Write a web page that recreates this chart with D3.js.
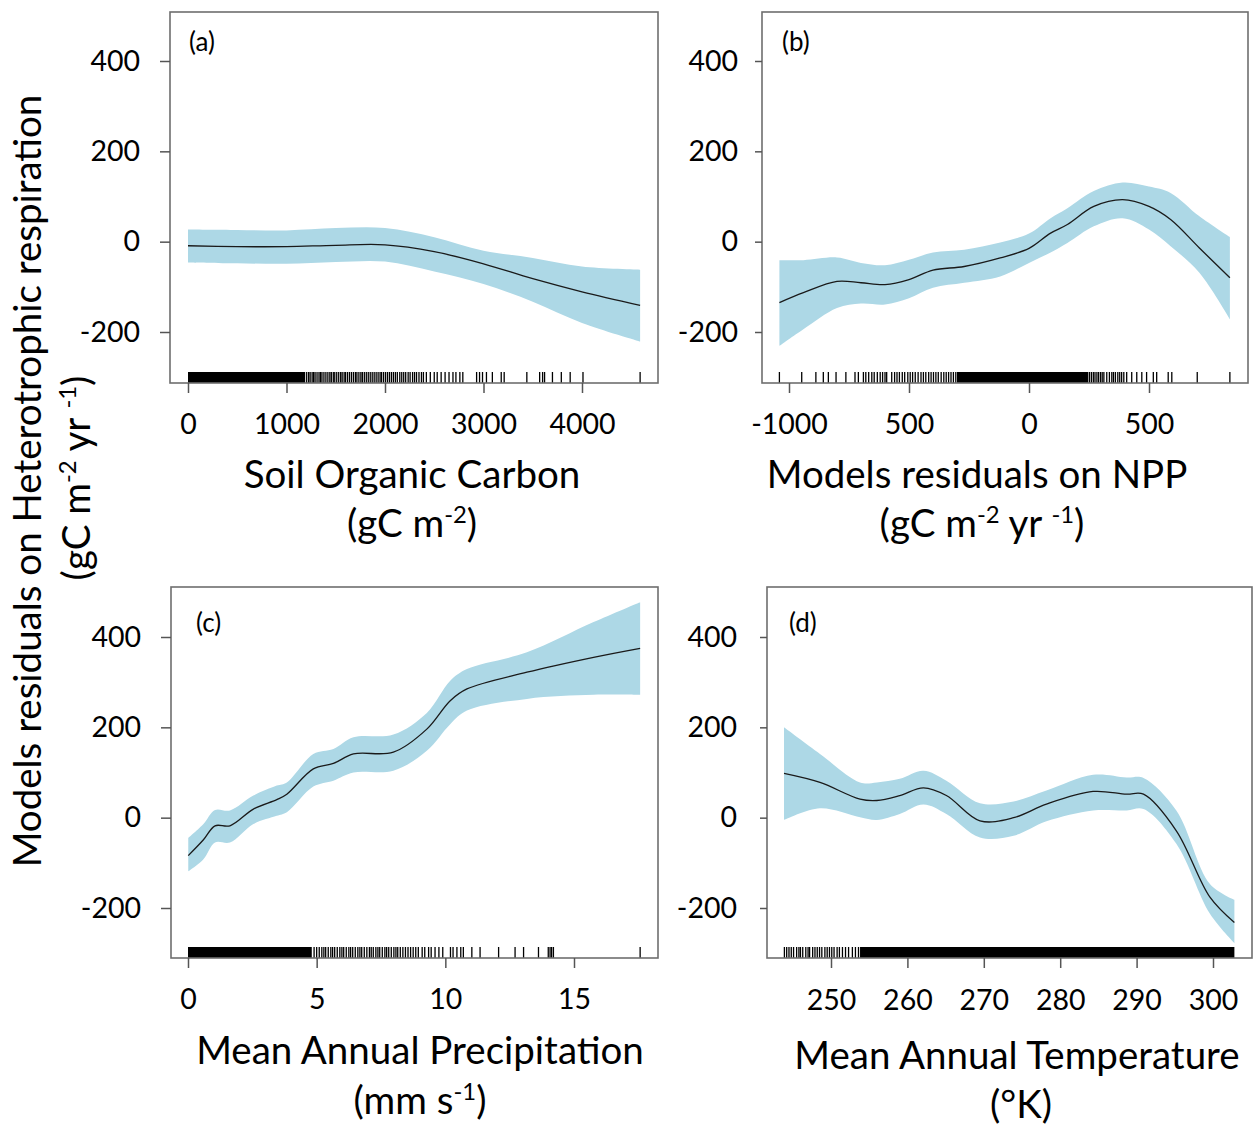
<!DOCTYPE html>
<html>
<head>
<meta charset="utf-8">
<script src="https://cdnjs.cloudflare.com/ajax/libs/d3/7.8.5/d3.min.js"></script>
<style>
body { margin:0; background:#fff; }
svg { display:block; }
text { font-family: Lato, "Open Sans", sans-serif; fill:#000; }
</style>
</head>
<body>
<div id="chart"></div>
<script>
// ---- (a) soil organic carbon ----
var socX   = [0, 500, 1000, 1500, 2000, 2500, 3000, 3500, 4000, 4590];
var socFit = [-9, -11, -11, -8, -7, -22, -49, -82, -111, -141];
var socHi  = [27, 26, 25, 30, 30, 10, -20, -36, -55, -62];
var socLo  = [-46, -48, -49, -45, -44, -66, -94, -133, -180, -221];
var socRugDense = [[0, 1190]];
var socRug = [1205,1225,1240,1260,1275,1290,1310,1330,1345,1360,1380,1400,1420,1440,1455,1475,1490,1510,1530,1550,1565,1585,1600,1620,1640,1660,1680,1700,1715,1735,1755,1770,1790,1810,1830,1850,1870,1890,1910,1930,1950,1965,1985,2005,2025,2045,2065,2085,2105,2125,2150,2170,2190,2210,2235,2255,2280,2300,2320,2345,2370,2390,2420,2460,2500,2530,2570,2610,2650,2690,2720,2760,2790,2930,2960,2990,3030,3090,3180,3210,3440,3570,3600,3620,3700,3790,3880,4010,4590];
var socTicks = [0, 1000, 2000, 3000, 4000];
var socTickLabels = ["0", "1000", "2000", "3000", "4000"];

// ---- (b) NPP residuals ----
var nppX   = [-1040, -940, -800, -700, -600, -500, -400, -270, -120, 0, 90, 160, 270, 390, 500, 590, 710, 837];
var nppFit = [-135, -113, -88, -91, -95, -84, -63, -55, -36, -15, 19, 38, 78, 93, 78, 49, -14, -80];
var nppHi  = [-41, -41, -35, -47, -52, -40, -24, -18, -2, 18, 52, 74, 112, 131, 122, 108, 56, 10];
var nppLo  = [-231, -194, -147, -137, -139, -125, -102, -91, -77, -47, -24, -3, 34, 52, 27, -10, -69, -172];
var nppRugDense = [[-300, 247]];
var nppRug = [-1040,-947,-888,-857,-836,-804,-763,-725,-711,-690,-680,-668,-655,-645,-632,-620,-610,-600,-593,-572,-560,-550,-540,-528,-518,-505,-495,-485,-474,-462,-450,-440,-430,-418,-408,-398,-388,-378,-366,-355,-345,-335,-325,-315,-305,252,260,268,275,283,290,298,305,312,324,335,345,352,360,370,378,386,395,407,428,449,470,490,518,532,580,595,701,837];
var nppTicks = [-1000, -500, 0, 500];
var nppTickLabels = ["-1000", "500", "0", "500"];

// ---- (c) mean annual precipitation ----
var mapX   = [0.01, 0.6, 1.05, 1.63, 2.54, 3.45, 3.84, 4.87, 5.65, 6.43, 7.98, 9.28, 10.19, 10.84, 13.17, 15.76, 17.57];
var mapFit = [-84, -49, -18, -18, 19, 40, 52, 108, 120, 141, 145, 196, 259, 285, 322, 355, 375];
var mapHi  = [-45, -14, 17, 16, 49, 71, 78, 141, 152, 178, 184, 232, 303, 329, 366, 433, 477];
var mapLo  = [-119, -92, -55, -55, -14, 4, 12, 69, 82, 100, 104, 148, 207, 237, 263, 272, 272];
var mapRugDense = [[0, 4.81]];
var mapRug = [4.9,5.0,5.1,5.2,5.28,5.35,5.45,5.55,5.62,5.7,5.8,5.9,5.98,6.05,6.15,6.25,6.32,6.4,6.5,6.6,6.68,6.75,6.85,6.95,7.05,7.12,7.2,7.3,7.38,7.45,7.55,7.65,7.72,7.8,7.9,8.0,8.08,8.15,8.25,8.35,8.45,8.55,8.65,8.75,8.85,8.95,9.1,9.2,9.35,9.45,9.6,9.75,9.9,10.2,10.3,10.45,10.6,10.7,11.03,11.35,12.07,12.71,13.04,13.62,14.0,14.07,14.13,14.2,17.57];
var mapTicks = [0, 5, 10, 15];
var mapTickLabels = ["0", "5", "10", "15"];

// ---- (d) mean annual temperature ----
var matX   = [243.85, 248.56, 253.8, 256, 259, 262.1, 265.1, 269.5, 273.9, 278.2, 284.3, 288.7, 290.9, 295.2, 299.6, 302.8];
var matFit = [98, 78, 41, 38, 49, 66, 49, -7, 0, 30, 58, 52, 52, -29, -176, -232];
var matHi  = [200, 141, 78, 78, 86, 104, 82, 32, 36, 60, 95, 89, 88, 16, -147, -182];
var matLo  = [-5, 21, 1, -5, 8, 29, 8, -44, -40, -8, 16, 16, 19, -58, -213, -278];
var matRugDense = [[253.8, 302.8]];
var matRug = [243.9,244.2,244.5,244.8,245.1,245.5,245.8,246.0,246.3,246.7,247.0,247.2,247.6,247.9,248.2,248.5,248.8,249.2,249.5,249.8,250.1,250.4,250.8,251.1,251.5,251.9,252.3,252.8,253.2,253.6];
var matTicks = [250, 260, 270, 280, 290, 300];
var matTickLabels = ["250", "260", "270", "280", "290", "300"];

var yTicks = [-200, 0, 200, 400];
var yTickLabels = ["-200", "0", "200", "400"];

var svg = d3.select('#chart').append('svg')
    .attr('width', 1253)
    .attr('height', 1125);

function drawPanel(p){
  var x = d3.scaleLinear().domain(p.xDom).range(p.xRange);
  var y = d3.scaleLinear().domain([-200, 400]).range(p.yRange);
  var g = svg.append('g');
  var f = p.frame;

  var pts = p.xs.map(function(v, i){ return {x: v, fit: p.fit[i], lo: p.lo[i], hi: p.hi[i]}; });
  var curve = d3.curveCatmullRom.alpha(0.5);

  g.append('path').datum(pts)
    .attr('fill', '#add8e6')
    .attr('d', d3.area().curve(curve)
      .x(function(d){ return x(d.x); })
      .y0(function(d){ return y(d.lo); })
      .y1(function(d){ return y(d.hi); }));

  g.append('path').datum(pts)
    .attr('fill', 'none')
    .attr('stroke', '#1a1a1a')
    .attr('stroke-width', 1.3)
    .attr('d', d3.line().curve(curve)
      .x(function(d){ return x(d.x); })
      .y(function(d){ return y(d.fit); }));

  // rug
  var rugTop = f.y1 - 11;
  g.selectAll('.dense').data(p.rugDense).enter().append('rect')
    .attr('x', function(d){ return x(d[0]); })
    .attr('width', function(d){ return x(d[1]) - x(d[0]); })
    .attr('y', rugTop).attr('height', 11)
    .attr('fill', '#000');
  g.selectAll('.rug').data(p.rug).enter().append('line')
    .attr('x1', function(d){ return x(d); }).attr('x2', function(d){ return x(d); })
    .attr('y1', rugTop).attr('y2', f.y1)
    .attr('stroke', '#000').attr('stroke-width', 1.3);

  // frame
  g.append('rect')
    .attr('x', f.x0).attr('y', f.y0)
    .attr('width', f.x1 - f.x0).attr('height', f.y1 - f.y0)
    .attr('fill', 'none').attr('stroke', '#6e6e6e').attr('stroke-width', 1.6);

  // axes
  var ax = g.append('g').attr('transform', 'translate(0,' + f.y1 + ')')
    .call(d3.axisBottom(x).tickValues(p.ticks).tickSize(10).tickPadding(p.xPad)
      .tickFormat(function(d, i){ return p.tickLabels[i]; }));
  var ay = g.append('g').attr('transform', 'translate(' + f.x0 + ',0)')
    .call(d3.axisLeft(y).tickValues(yTicks).tickSize(p.yTick).tickPadding(p.yPad)
      .tickFormat(function(d, i){ return yTickLabels[i]; }));
  [ax, ay].forEach(function(a){
    a.select('.domain').remove();
    a.selectAll('line').attr('stroke', '#555').attr('stroke-width', 1.5);
    a.selectAll('text').attr('font-size', 28.5).attr('font-family', 'Lato, sans-serif').attr('fill', '#000');
  });

  g.append('text')
    .attr('x', p.tag[0]).attr('y', p.tag[1])
    .attr('font-size', 26)
    .text(p.tagText);
}

// text with superscripts: parts = [[text, isSup], ...]
function richText(x, y, parts, size, rotate){
  var t = svg.append('text')
    .attr('text-anchor', 'middle')
    .attr('font-size', size)
    .attr('transform', 'translate(' + x + ',' + y + ')' + (rotate ? ' rotate(-90)' : ''));
  var shift = 0;
  parts.forEach(function(pt){
    var ts = t.append('tspan').text(pt[0]);
    if (pt[1]) {
      ts.attr('font-size', size * 0.62).attr('dy', -size * 0.36 - shift);
      shift = -size * 0.36;
    } else {
      ts.attr('dy', -shift);
      shift = 0;
    }
  });
}

drawPanel({xs: socX, fit: socFit, lo: socLo, hi: socHi, rug: socRug, rugDense: socRugDense,
  xDom: [0, 4000], xRange: [188, 582], yRange: [332, 61],
  frame: {x0: 170, x1: 658, y0: 12, y1: 383},
  ticks: socTicks, tickLabels: socTickLabels, xPad: 21, yTick: 10, yPad: 20,
  tag: [189, 51], tagText: '(a)'});

drawPanel({xs: nppX, fit: nppFit, lo: nppLo, hi: nppHi, rug: nppRug, rugDense: nppRugDense,
  xDom: [-1000, 500], xRange: [789, 1149], yRange: [332, 61],
  frame: {x0: 762, x1: 1248, y0: 12, y1: 383},
  ticks: nppTicks, tickLabels: nppTickLabels, xPad: 21, yTick: 7, yPad: 17,
  tag: [782, 51], tagText: '(b)'});

drawPanel({xs: mapX, fit: mapFit, lo: mapLo, hi: mapHi, rug: mapRug, rugDense: mapRugDense,
  xDom: [0, 15], xRange: [188, 574], yRange: [908, 637],
  frame: {x0: 171, x1: 658, y0: 587, y1: 958},
  ticks: mapTicks, tickLabels: mapTickLabels, xPad: 21, yTick: 10, yPad: 20,
  tag: [196, 632], tagText: '(c)'});

drawPanel({xs: matX, fit: matFit, lo: matLo, hi: matHi, rug: matRug, rugDense: matRugDense,
  xDom: [250, 300], xRange: [831, 1213], yRange: [908, 637],
  frame: {x0: 767, x1: 1252, y0: 587, y1: 958},
  ticks: matTicks, tickLabels: matTickLabels, xPad: 22, yTick: 7, yPad: 23,
  tag: [789, 632], tagText: '(d)'});

// axis titles
var ts = 38.5;
richText(412, 488, [['Soil Organic Carbon', false]], ts);
richText(412, 537, [['(gC m', false], ['-2', true], [')', false]], ts);
richText(977, 488, [['Models residuals on NPP', false]], ts);
richText(982, 537, [['(gC m', false], ['-2', true], [' yr ', false], ['-1', true], [')', false]], ts);
richText(420, 1064, [['Mean Annual Precipitation', false]], ts);
richText(420, 1114, [['(mm s', false], ['-1', true], [')', false]], ts);
richText(1017, 1069, [['Mean Annual Temperature', false]], ts);
richText(1021, 1118, [['(°K)', false]], ts);

richText(41, 481, [['Models residuals on Heterotrophic respiration', false]], ts, true);
richText(90, 478, [['(gC m', false], ['-2', true], [' yr ', false], ['-1', true], [')', false]], ts, true);
</script>
</body>
</html>
